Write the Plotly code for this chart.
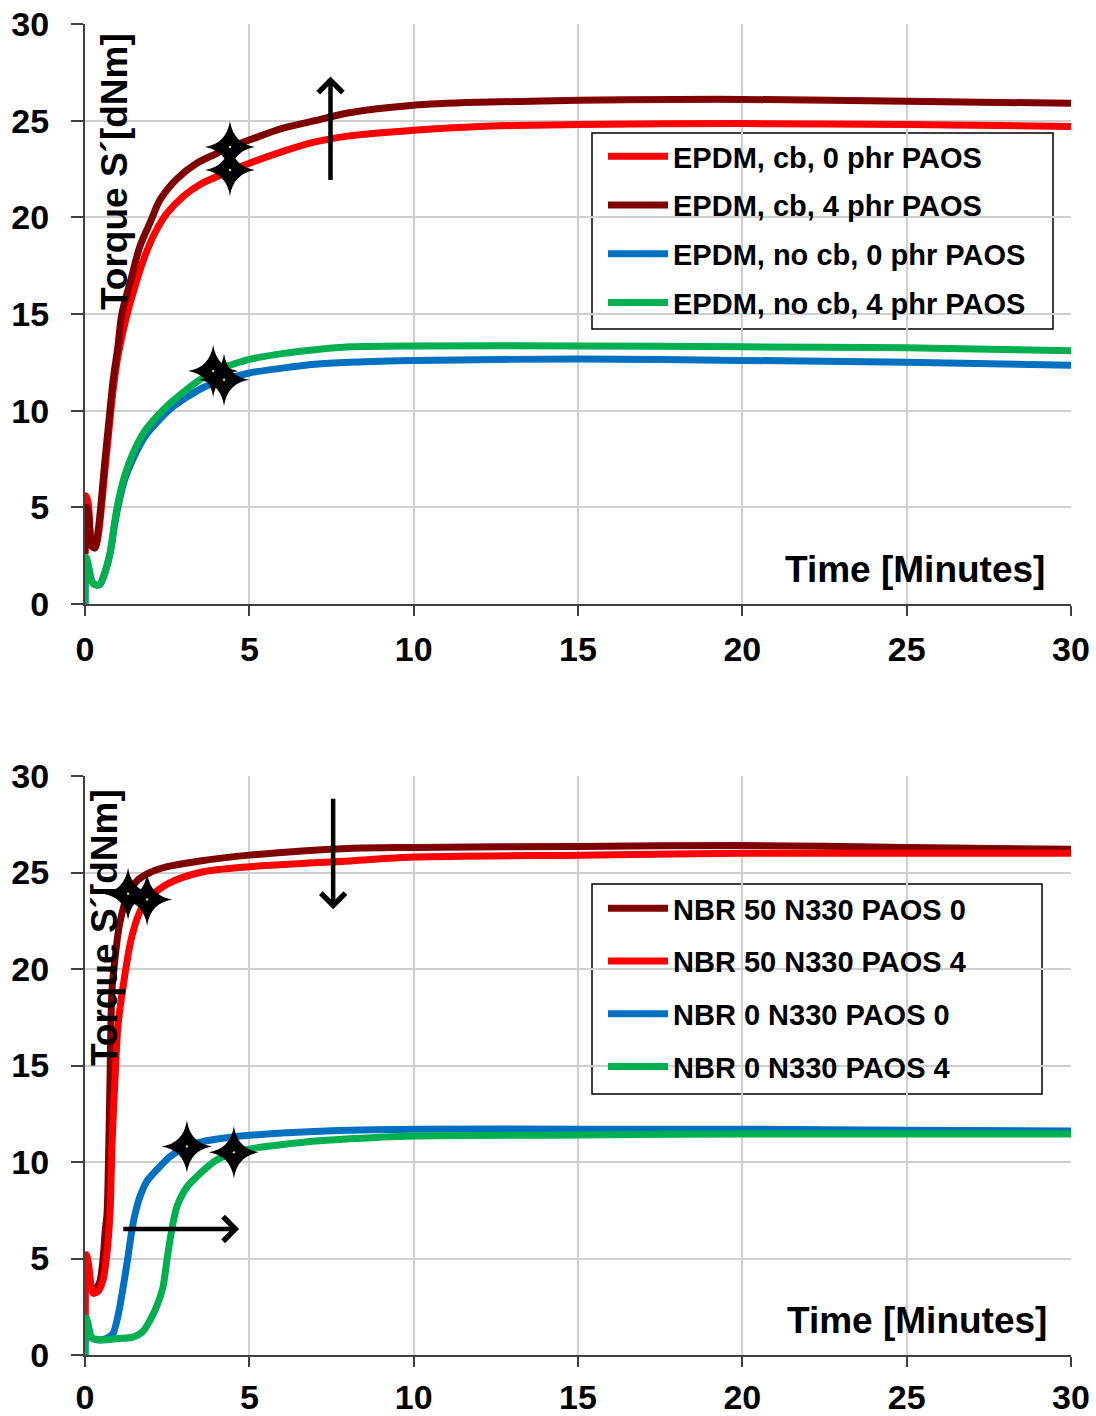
import plotly.graph_objects as go

# ---------------- data ----------------
# Top panel: EPDM
t_epdm_cb0 = [0, 0.04, 0.1, 0.2, 0.3, 0.4, 0.5, 0.6, 0.7, 0.85, 1.0, 1.27, 1.5, 1.78, 2.1, 2.49, 3.0, 3.5, 4.0, 4.47, 5, 6, 7, 8, 10, 12, 15, 20, 25, 30]
y_epdm_cb0 = [2.6, 5.6, 5.2, 3.2, 2.9, 3.5, 5.0, 6.8, 8.5, 11.0, 12.8, 14.9, 16.3, 17.8, 19.1, 20.2, 21.1, 21.7, 22.1, 22.45, 22.8, 23.4, 23.9, 24.2, 24.5, 24.7, 24.8, 24.85, 24.8, 24.7]

t_epdm_cb4 = [0, 0.04, 0.1, 0.2, 0.3, 0.4, 0.5, 0.6, 0.7, 0.85, 1.0, 1.12, 1.4, 1.67, 2.0, 2.28, 2.8, 3.4, 4.0, 4.41, 5, 6, 7, 8, 10, 12, 15, 18, 20, 25, 30]
y_epdm_cb4 = [2.6, 5.0, 4.8, 3.0, 2.9, 3.8, 5.4, 7.3, 9.0, 11.5, 13.3, 15.0, 16.8, 18.5, 19.8, 20.9, 22.0, 22.8, 23.3, 23.64, 24.0, 24.6, 25.0, 25.4, 25.8, 25.95, 26.05, 26.1, 26.1, 26.0, 25.9]

t_epdm_nocb0 = [0, 0.04, 0.1, 0.2, 0.3, 0.45, 0.6, 0.76, 0.9, 1.0, 1.2, 1.46, 1.8, 2.19, 2.6, 3.1, 3.6, 4.23, 5, 6, 7, 8.06, 10, 15, 20, 25, 30]
y_epdm_nocb0 = [0, 2.3, 2.0, 1.2, 1.0, 1.0, 1.6, 2.6, 4.1, 5.0, 6.4, 7.5, 8.6, 9.4, 10.1, 10.7, 11.2, 11.6, 11.95, 12.2, 12.4, 12.5, 12.6, 12.67, 12.6, 12.5, 12.35]

t_epdm_nocb4 = [0, 0.04, 0.1, 0.2, 0.3, 0.45, 0.6, 0.76, 0.9, 1.0, 1.2, 1.46, 1.8, 2.19, 2.6, 3.1, 3.5, 3.9, 4.5, 5, 6, 7, 8.06, 10, 15, 20, 25, 30]
y_epdm_nocb4 = [0, 2.4, 2.0, 1.2, 1.0, 1.0, 1.6, 2.6, 4.2, 5.2, 6.6, 7.8, 8.9, 9.7, 10.4, 11.1, 11.6, 12.05, 12.4, 12.65, 12.95, 13.15, 13.3, 13.35, 13.35, 13.3, 13.25, 13.1]

# Bottom panel: NBR
t_nbr50_p0 = [0, 0.04, 0.1, 0.2, 0.3, 0.45, 0.55, 0.62, 0.67, 0.72, 0.76, 0.82, 0.91, 1.05, 1.31, 1.6, 1.98, 2.5, 3.5, 5, 8, 10, 15, 20, 25, 30]
y_nbr50_p0 = [2.0, 5.0, 4.6, 3.5, 3.4, 3.8, 5.0, 6.5, 7.3, 10.5, 14.2, 18.9, 20.5, 22.3, 23.9, 24.6, 25.0, 25.3, 25.6, 25.9, 26.25, 26.3, 26.35, 26.4, 26.3, 26.2]

t_nbr50_p4 = [0, 0.04, 0.1, 0.25, 0.4, 0.55, 0.65, 0.76, 0.82, 0.91, 1.0, 1.16, 1.4, 1.65, 1.89, 2.5, 3.5, 5, 8.06, 10, 15, 20, 30]
y_nbr50_p4 = [2.0, 5.2, 4.8, 3.2, 3.3, 3.9, 5.0, 7.3, 10.8, 14.2, 17.0, 19.1, 21.5, 22.9, 23.6, 24.4, 25.0, 25.3, 25.6, 25.8, 25.9, 26.0, 26.0]

t_nbr0_p0 = [0, 0.04, 0.1, 0.2, 0.45, 0.7, 0.85, 1.0, 1.16, 1.3, 1.43, 1.55, 1.67, 1.88, 2.19, 2.6, 3.1, 3.7, 4.5, 6, 8.06, 10, 15, 20, 25, 30]
y_nbr0_p0 = [0, 1.9, 1.5, 0.9, 0.78, 0.9, 1.1, 2.0, 3.5, 5.0, 6.5, 7.5, 8.2, 9.0, 9.6, 10.3, 10.8, 11.1, 11.3, 11.5, 11.65, 11.7, 11.7, 11.7, 11.65, 11.6]

t_nbr0_p4 = [0, 0.04, 0.1, 0.2, 0.5, 1.0, 1.46, 1.75, 1.98, 2.2, 2.37, 2.5, 2.64, 2.8, 3.1, 3.5, 4.0, 4.53, 5.5, 6.5, 8.06, 10, 15, 20, 30]
y_nbr0_p4 = [0, 1.9, 1.5, 0.9, 0.78, 0.85, 0.93, 1.2, 1.8, 2.6, 3.5, 5.0, 6.5, 7.7, 8.7, 9.4, 10.1, 10.5, 10.8, 11.0, 11.2, 11.35, 11.4, 11.45, 11.45]

# Star markers (cure points)
star_top_t = [4.41, 4.41, 3.9, 4.23]
star_top_y = [22.45, 23.64, 12.05, 11.6]
star_bot_t = [1.31, 1.89, 3.1, 4.53]
star_bot_y = [23.9, 23.6, 10.8, 10.5]

# Arrows: (tail_t, tail_y, head_t, head_y)
arrows_top = [(7.47, 21.85, 7.47, 27.28)]
arrows_bot = [(7.55, 28.9, 7.55, 23.1), (1.12, 6.53, 4.69, 6.53)]

x_ticks = [0, 5, 10, 15, 20, 25, 30]
y_ticks = [0, 5, 10, 15, 20, 25, 30]

labels_top = ["EPDM, cb, 0 phr PAOS", "EPDM, cb, 4 phr PAOS", "EPDM, no cb, 0 phr PAOS", "EPDM, no cb, 4 phr PAOS"]
labels_bot = ["NBR 50 N330 PAOS 0", "NBR 50 N330 PAOS 4", "NBR 0 N330 PAOS 0", "NBR 0 N330 PAOS 4"]

RED = "#FF0000"
DRED = "#7F0000"
BLUE = "#0070C0"
GREEN = "#00B050"

W, H = 1096, 1416
FONT = "Liberation Sans, Arial, sans-serif"

def px(x):
    return x / W

def py(y):
    return 1 - y / H

fig = go.Figure()

LW = 7
SMOOTH = 0.8
top_series = [
    (t_epdm_cb0, y_epdm_cb0, RED, labels_top[0]),
    (t_epdm_cb4, y_epdm_cb4, DRED, labels_top[1]),
    (t_epdm_nocb0, y_epdm_nocb0, BLUE, labels_top[2]),
    (t_epdm_nocb4, y_epdm_nocb4, GREEN, labels_top[3]),
]
for i, (t, y, c, name) in enumerate(top_series):
    fig.add_trace(go.Scatter(x=t, y=y, mode="lines", name=name,
                             line=dict(color=c, width=LW, shape="spline", smoothing=SMOOTH),
                             xaxis="x", yaxis="y", legend="legend", legendgroup="t%d" % i))

bot_series = [
    (t_nbr50_p0, y_nbr50_p0, DRED, labels_bot[0]),
    (t_nbr50_p4, y_nbr50_p4, RED, labels_bot[1]),
    (t_nbr0_p0, y_nbr0_p0, BLUE, labels_bot[2]),
    (t_nbr0_p4, y_nbr0_p4, GREEN, labels_bot[3]),
]
for i, (t, y, c, name) in enumerate(bot_series):
    fig.add_trace(go.Scatter(x=t, y=y, mode="lines", name=name,
                             line=dict(color=c, width=LW, shape="spline", smoothing=SMOOTH),
                             xaxis="x2", yaxis="y2", legend="legend2", legendgroup="b%d" % i))

# four-pointed "sparkle" star glyph (pixel units, anchored at each data point)
STAR_PATH = "M0,-26 Q3.5,-3.5 25,0 Q3.5,3.5 0,26 Q-3.5,3.5 -25,0 Q-3.5,-3.5 0,-26 Z"
shapes = []
for xs, ys, xr, yr in [(star_top_t, star_top_y, "x", "y"), (star_bot_t, star_bot_y, "x2", "y2")]:
    for xv, yv in zip(xs, ys):
        shapes.append(dict(type="path", xref=xr, yref=yr, xsizemode="pixel", ysizemode="pixel",
                           xanchor=xv, yanchor=yv, path=STAR_PATH, fillcolor="black",
                           line=dict(width=0), layer="above"))

# small yellow centre dots of the star markers (drawn above the stars)
for xs, ys, xr, yr in [(star_top_t, star_top_y, "x", "y"), (star_bot_t, star_bot_y, "x2", "y2")]:
    for xv, yv in zip(xs, ys):
        shapes.append(dict(type="circle", xref=xr, yref=yr, xsizemode="pixel", ysizemode="pixel",
                           xanchor=xv, yanchor=yv, x0=-1.2, x1=1.2, y0=-1.2, y1=1.2,
                           fillcolor="#E8E800", line=dict(width=0), layer="above"))

# legend frames (white box with thin black border)
for (x0, y0, x1, y1) in [(592, 133, 1053, 329), (592, 884, 1042, 1094)]:
    shapes.append(dict(type="rect", xref="paper", yref="paper", x0=px(x0), x1=px(x1),
                       y0=py(y1), y1=py(y0), fillcolor="white",
                       line=dict(color="black", width=1.5), layer="between"))

annotations = []
for arr, xr, yr in [(arrows_top, "x", "y"), (arrows_bot, "x2", "y2")]:
    for (x0, y0, x1, y1) in arr:
        annotations.append(dict(x=x1, y=y1, ax=x0, ay=y0, xref=xr, yref=yr, axref=xr, ayref=yr,
                                showarrow=True, arrowhead=4, arrowsize=1.05, arrowwidth=4.5,
                                arrowcolor="black", text=""))

tfont = dict(family=FONT, size=37, color="black", weight="bold")
annotations += [
    dict(text="Time [Minutes]", x=px(1047), y=py(569), xref="paper", yref="paper",
         xanchor="right", yanchor="middle", showarrow=False, font=tfont),
    dict(text="Time [Minutes]", x=px(1049), y=py(1320), xref="paper", yref="paper",
         xanchor="right", yanchor="middle", showarrow=False, font=tfont),
    dict(text="Torque S´[dNm]", x=px(114), y=py(172), xref="paper", yref="paper",
         xanchor="center", yanchor="middle", textangle=-90, showarrow=False, font=tfont),
    dict(text="Torque S´[dNm]", x=px(105), y=py(928), xref="paper", yref="paper",
         xanchor="center", yanchor="middle", textangle=-90, showarrow=False, font=tfont),
]

tickfont = dict(family=FONT, size=34, color="black", weight="bold")
xdom = [px(85), px(1071)]

def xaxis(anchor, standoff):
    return dict(domain=xdom, range=[0, 30], tickvals=x_ticks, ticks="outside", ticklen=10,
                tickwidth=2, tickcolor="#404040", showline=True, linecolor="#404040", linewidth=2,
                showgrid=True, gridcolor="#CFCFCF", gridwidth=1.5, zeroline=False,
                tickfont=tickfont, anchor=anchor, ticklabelstandoff=standoff, automargin=False)

def yaxis(dom, anchor):
    return dict(domain=dom, range=[0, 30], tickvals=y_ticks, ticks="outside", ticklen=12,
                tickwidth=2, tickcolor="#404040", showline=True, linecolor="#404040", linewidth=2,
                showgrid=True, gridcolor="#CFCFCF", gridwidth=1.5, zeroline=False,
                tickfont=tickfont, anchor=anchor, ticklabelstandoff=15, automargin=False)

legfont = dict(family=FONT, size=29, color="black", weight="bold")
fig.update_layout(
    width=W, height=H,
    margin=dict(l=0, r=0, t=0, b=0),
    paper_bgcolor="white", plot_bgcolor="white",
    xaxis=xaxis("y", 4),
    yaxis=yaxis([py(604), py(24)], "x"),
    xaxis2=xaxis("y2", 1),
    yaxis2=yaxis([py(1355), py(776)], "x2"),
    legend=dict(x=px(603), y=py(131), xanchor="left", yanchor="top", font=legfont,
                bgcolor="rgba(0,0,0,0)", borderwidth=0, tracegroupgap=8,
                itemwidth=60, traceorder="grouped"),
    legend2=dict(x=px(603), y=py(883), xanchor="left", yanchor="top", font=legfont,
                 bgcolor="rgba(0,0,0,0)", borderwidth=0, tracegroupgap=12,
                 itemwidth=60, traceorder="grouped"),
    shapes=shapes,
    annotations=annotations,
    showlegend=True,
)

fig.write_html("out.html")
